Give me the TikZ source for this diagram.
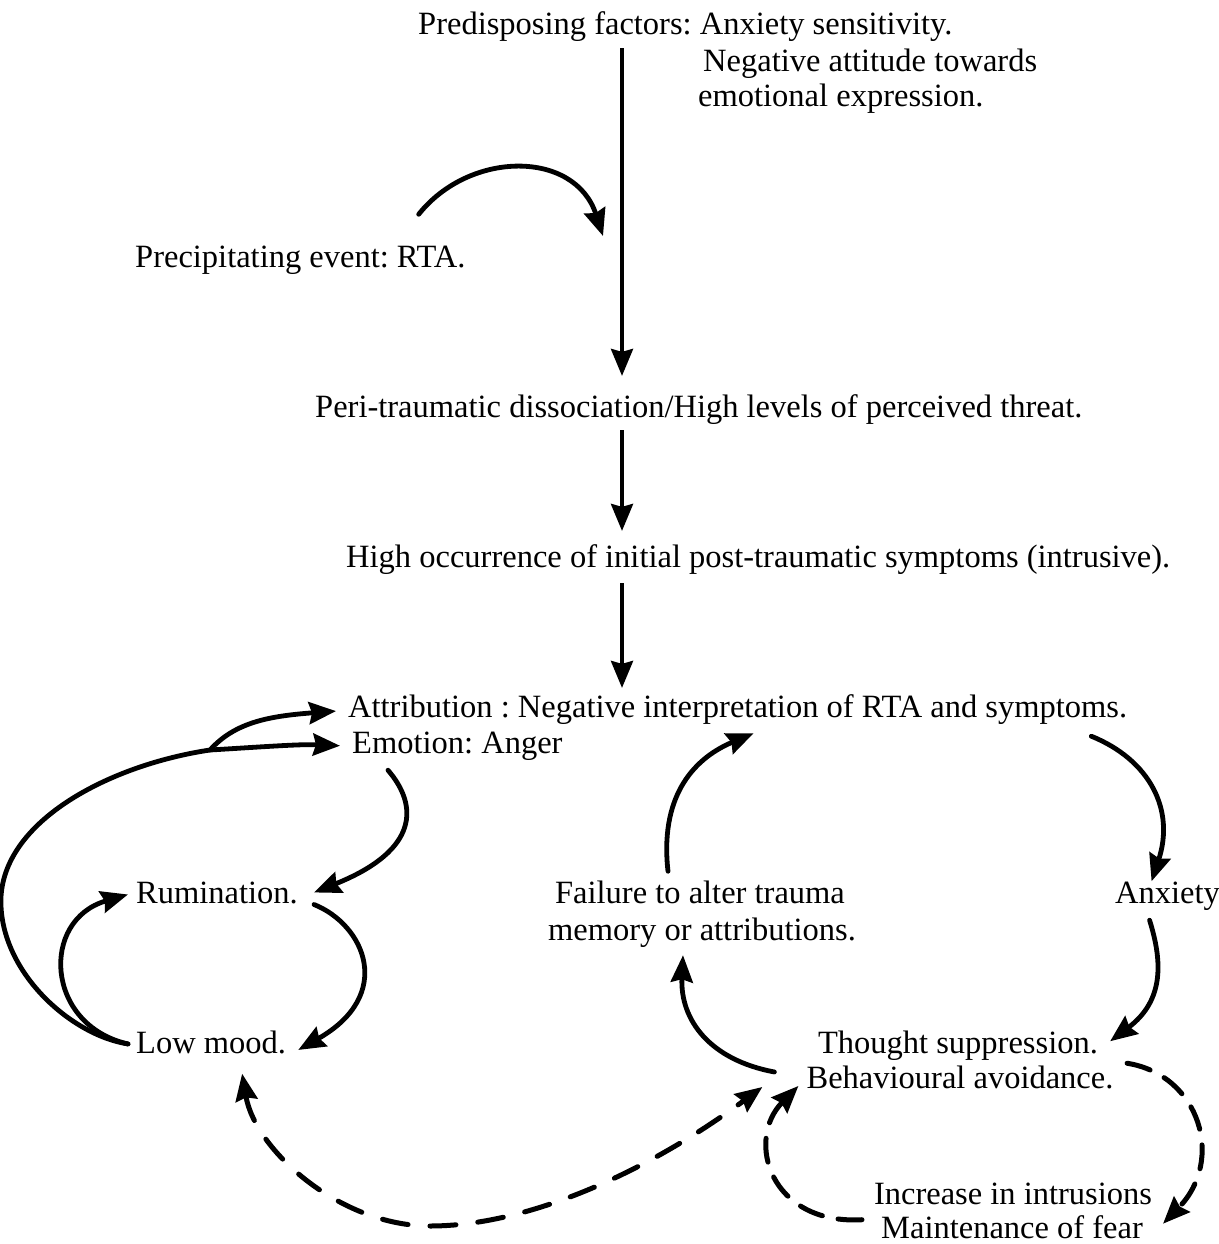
\documentclass[tikz,border=0pt]{standalone}
\usepackage{fontspec}
\setmainfont{Liberation Serif}
\usetikzlibrary{arrows.meta,calc}
\begin{document}
\frenchspacing
\begin{tikzpicture}[x=1pt,y=-1pt,
  lbl/.style={inner sep=0pt,font=\fontsize{32.5}{36}\selectfont},
  tipx/.tip={Stealth[length=27pt,width=22pt,inset=3pt]},
  conn/.style={line width=4.8pt,line cap=round,-tipx},
  thin/.style={line width=3.8pt,-tipx},
  dconn/.style={line width=5pt,line cap=round,dash pattern=on 26pt off 22pt},
  dconnb/.style={line width=5pt,line cap=round,dash pattern=on 24pt off 16pt}
]
\useasboundingbox (0,0) rectangle (1218,1244);

% texts
\node[lbl,anchor=base west] (pre1) at (418,35) {Predisposing factors: Anxiety sensitivity.};
\node[lbl,anchor=base west] (neg1) at (703,72) {Negative attitude towards};
\node[lbl,anchor=base west] (neg2) at (698,107) {emotional expression.};
\node[lbl,anchor=base west] (prec) at (135,267) {Precipitating event: RTA.};
\node[lbl,anchor=base west] (peri) at (315,417) {Peri-traumatic dissociation/High levels of perceived threat.};
\node[lbl,anchor=base west] (high) at (346,567) {High occurrence of initial post-traumatic symptoms (intrusive).};
\node[lbl,anchor=base west] (attr) at (348,717) {Attribution : Negative interpretation of RTA and symptoms.};
\node[lbl,anchor=base west] (emo) at (352,753) {Emotion: Anger};
\node[lbl,anchor=base west] (rum) at (136,903) {Rumination.};
\node[lbl,anchor=base] (fail1) at (700,903) {Failure to alter trauma};
\node[lbl,anchor=base] (fail2) at (702,940) {memory or attributions.};
\node[lbl,anchor=base west] (anx) at (1115,903) {Anxiety};
\node[lbl,anchor=base west] (low) at (136,1053) {Low mood.};
\node[lbl,anchor=base] (th1) at (958,1053) {Thought suppression.};
\node[lbl,anchor=base] (th2) at (960,1088) {Behavioural avoidance.};
\node[lbl,anchor=base] (inc) at (1013,1204) {Increase in intrusions};
\node[lbl,anchor=base] (maint) at (1012,1238) {Maintenance of fear};

% free join points
\coordinate (rtajoin) at (603,236);
\coordinate (split) at (210,750);

% main vertical chain
\draw[thin] ($(pre1.south west)+(204,6)$) -- ($(peri.north west)+(307,-18)$);
\draw[conn] ($(prec.north east)+(-47,-31)$) .. controls (470,150) and (575,150) .. (rtajoin);
\draw[thin] ($(peri.south west)+(307,6)$) -- ($(high.north west)+(276,-13)$);
\draw[thin] ($(high.south west)+(276,9)$) -- ($(attr.north west)+(274,-6)$);

% left loop
\draw[conn] ($(low.west)+(-8,2)$) .. controls (70,1035) and (-2,970) .. (1,897)
  .. controls (5,820) and (110,765) .. (split)
  .. controls (260,747) and (300,744) .. ($(emo.west)+(-12,0)$);
\draw[conn] (split) .. controls (235,722) and (270,716) .. ($(attr.west)+(-12,2)$);
\draw[conn] ($(emo.south west)+(36,10)$) .. controls (418,805) and (420,850) .. ($(rum.east)+(16,0)$);
\draw[conn] ($(rum.east)+(16,12)$) .. controls (365,925) and (395,995) .. ($(low.east)+(12,8)$);
\draw[conn] ($(low.west)+(-8,2)$) .. controls (45,1025) and (40,920) .. ($(rum.west)+(-8,2)$);

% right loop
\draw[conn] ($(attr.south east)+(-36,12)$) .. controls (1150,760) and (1175,810) .. ($(anx.north)+(-16,0)$);
\draw[conn] ($(anx.south)+(-18,10)$) .. controls (1162,960) and (1165,1000) .. ($(th1.east)+(12,-4)$);
\draw[conn] ($(th2.west)+(-32,-5)$) .. controls (710,1060) and (680,1020) .. ($(fail2.south)+(-19,8)$);
\draw[conn] ($(fail1.north)+(-32,-9)$) .. controls (660,800) and (690,760) .. ($(attr.south)+(16,9)$);

% dashed connectors
\draw[dconn,tipx-tipx] ($(low.south)+(31,20)$) .. controls (255,1150) and (340,1226) .. (430,1226)
  .. controls (530,1226) and (650,1170) .. ($(th2.west)+(-44,10)$);
\draw[dconnb,-tipx] ($(maint.west)+(-19,-7)$) .. controls (770,1225) and (745,1140) .. ($(th2.west)+(-8,9)$);
\draw[dconnb,-tipx] ($(th1.east)+(29,18)$) .. controls (1200,1075) and (1225,1160) .. ($(maint.east)+(20,-3)$);
\end{tikzpicture}
\end{document}
